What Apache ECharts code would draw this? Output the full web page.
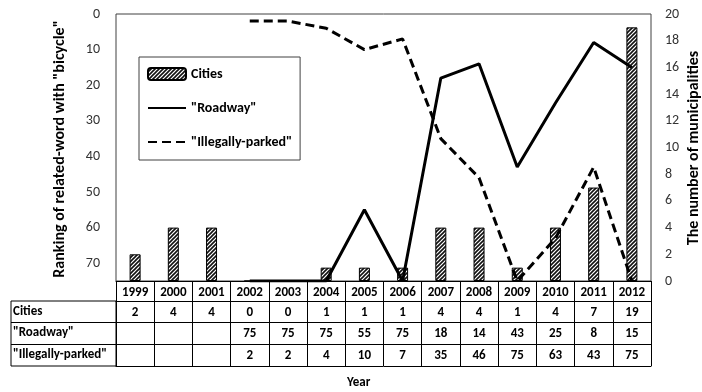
<!DOCTYPE html>
<html>
<head>
<meta charset="utf-8">
<script src="https://cdn.jsdelivr.net/npm/echarts@6/dist/echarts.min.js"></script>
<style>
html,body{margin:0;padding:0;background:#fff;}
#c{width:702px;height:392px;}
</style>
</head>
<body>
<div id="c"></div>
<script>
const years = ['1999','2000','2001','2002','2003','2004','2005','2006','2007','2008','2009','2010','2011','2012'];
const cities = [2,4,4,0,0,1,1,1,4,4,1,4,7,19];
const roadway = [null,null,null,75,75,75,55,75,18,14,43,25,8,15];
const illegallyParked = [null,null,null,2,2,4,10,7,35,46,75,63,43,75];
const rowNames = ['Cities','"Roadway"','"Illegally-parked"'];
const rowData = [cities, roadway, illegallyParked];
const leftTitle = 'Ranking of related-word with "bicycle"';
const rightTitle = 'The number of municipalities';
const xTitle = 'Year';

const FONT = 'Carlito, Lato, "Liberation Sans", sans-serif';

// hatch pattern for bars
const pc = document.createElement('canvas');
pc.width = 4; pc.height = 4;
const px = pc.getContext('2d');
px.fillStyle = '#fff'; px.fillRect(0,0,4,4);
px.strokeStyle = '#111'; px.lineWidth = 1.6;
px.beginPath();
px.moveTo(-1,5); px.lineTo(5,-1);
px.moveTo(-1,1); px.lineTo(1,-1);
px.moveTo(3,5); px.lineTo(5,3);
px.stroke();
const hatch = { image: pc, repeat: 'repeat' };

const chart = echarts.init(document.getElementById('c'), null, {renderer:'canvas'});

const rowOffsets = [20, 41, 63];
const rowTickLen = [21, 22, 22];

const xAxes = [{
  type: 'category', data: years, position: 'bottom', gridIndex: 0,
  axisLine: { show: true, onZero: false, lineStyle: { color: '#000', width: 1 } },
  axisTick: { show: true, interval: 0, length: 20, lineStyle: { color: '#000' } },
  axisLabel: { interval: 0, margin: 5, fontFamily: FONT, fontWeight: 'bold', fontSize: 13, color: '#000' }
}];
rowNames.forEach((nm, i) => {
  const arr = rowData[i];
  xAxes.push({
    type: 'category', data: years, position: 'bottom', offset: rowOffsets[i], gridIndex: 0,
    axisLine: { show: true, onZero: false, lineStyle: { color: '#000', width: 1 } },
    axisTick: { show: true, interval: 0, length: rowTickLen[i], lineStyle: { color: '#000' } },
    axisLabel: { interval: 0, margin: 5, fontFamily: FONT, fontWeight: 'bold', fontSize: 13, color: '#000',
      formatter: (v, idx) => (arr[idx] === null || arr[idx] === undefined) ? '' : String(arr[idx]) }
  });
});
xAxes.push({
  type: 'category', data: years, position: 'bottom', offset: 85, gridIndex: 0,
  axisLine: { show: true, onZero: false, lineStyle: { color: '#000', width: 1 } },
  axisTick: { show: false }, axisLabel: { show: false }
});

const rowTops = [301, 322.5, 344.5];
const graphics = [
  { type: 'rect', shape: { x: 11, y: 301, width: 105, height: 65 }, style: { fill: 'none', stroke: '#000', lineWidth: 1 }, silent: true },
  { type: 'line', shape: { x1: 11, y1: 322.5, x2: 116, y2: 322.5 }, style: { stroke: '#000', lineWidth: 1 }, silent: true },
  { type: 'line', shape: { x1: 11, y1: 344.5, x2: 116, y2: 344.5 }, style: { stroke: '#000', lineWidth: 1 }, silent: true },
  { type: 'text', left: 347, top: 376, style: { text: xTitle, fontFamily: FONT, fontWeight: 'bold', fontSize: 13, fill: '#000' } },
  { type: 'text', x: 60, y: 149, rotation: Math.PI / 2, silent: true,
    style: { text: leftTitle, align: 'center', verticalAlign: 'middle', fontFamily: FONT, fontWeight: 'bold', fontSize: 16, fill: '#000' } },
  { type: 'text', x: 694, y: 148, rotation: Math.PI / 2, silent: true,
    style: { text: rightTitle, align: 'center', verticalAlign: 'middle', fontFamily: FONT, fontWeight: 'bold', fontSize: 16, fill: '#000' } }
];
rowNames.forEach((nm, i) => {
  graphics.push({ type: 'text', left: 13, top: rowTops[i] + 4, style: { text: nm, fontFamily: FONT, fontWeight: 'bold', fontSize: 13, fill: '#000' } });
});

chart.setOption({
  animation: false,
  backgroundColor: '#fff',
  textStyle: { fontFamily: FONT },
  grid: { left: 116, right: 51, top: 14, bottom: 111, show: true, borderColor: '#404040', borderWidth: 1, backgroundColor: 'transparent' },
  legend: {
    left: 139, top: 57, orient: 'vertical',
    backgroundColor: '#fff', borderColor: '#404040', borderWidth: 1,
    padding: [10, 8, 11, 8], itemGap: 20, itemWidth: 38, itemHeight: 12,
    textStyle: { fontFamily: FONT, fontWeight: 'bold', fontSize: 14, color: '#000' },
    data: [
      { name: 'Cities' },
      { name: '"Roadway"', itemStyle: { opacity: 0 } },
      { name: '"Illegally-parked"', itemStyle: { opacity: 0 } }
    ]
  },
  xAxis: xAxes,
  yAxis: [{
    type: 'value', inverse: true, min: 0, max: 75, interval: 10, position: 'left',
    axisLine: { show: false }, axisTick: { show: false }, splitLine: { show: false },
    axisLabel: { margin: 16, fontFamily: FONT, fontSize: 14, color: '#333',
      formatter: v => (v % 10 === 0 ? String(v) : '') }
  }, {
    type: 'value', min: 0, max: 20, interval: 2, position: 'right',
    axisLine: { show: false }, axisTick: { show: false }, splitLine: { show: false },
    axisLabel: { margin: 14, fontFamily: FONT, fontSize: 14, color: '#333' }
  }],
  series: [{
    name: 'Cities', type: 'bar', xAxisIndex: 0, yAxisIndex: 1, data: cities, barWidth: 11,
    itemStyle: { color: hatch, borderColor: '#000', borderWidth: 1 }
  }, {
    name: '"Roadway"', type: 'line', xAxisIndex: 0, yAxisIndex: 0, data: roadway,
    symbol: 'none', showSymbol: false, connectNulls: false,
    lineStyle: { color: '#000', width: 3 }, itemStyle: { color: '#000' }
  }, {
    name: '"Illegally-parked"', type: 'line', xAxisIndex: 0, yAxisIndex: 0, data: illegallyParked,
    symbol: 'none', showSymbol: false, connectNulls: false,
    lineStyle: { color: '#000', width: 3, type: [9, 5] }, itemStyle: { color: '#000' }
  }],
  graphic: graphics
});
</script>
</body>
</html>
